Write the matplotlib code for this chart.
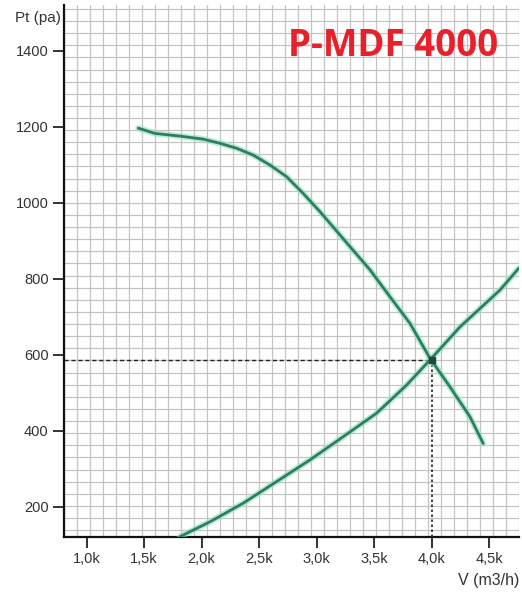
import numpy as np
import matplotlib.pyplot as plt

# Curva del ventilador
fan_q = [1449, 1594, 1812, 2014, 2160, 2305, 2449, 2594, 2740, 2884, 3030,
         3291, 3465, 3639, 3813, 3987, 4161, 4335, 4450]
fan_p = [1197, 1183, 1176, 1168, 1157, 1144, 1126, 1100, 1069, 1025, 977,
         885, 824, 753, 683, 591, 516, 437, 367]

# Curva del sistema
sys_q = [1812, 2073, 2362, 2653, 2943, 3232, 3523, 3784, 3987, 4248, 4596, 4761]
sys_p = [122, 161, 210, 267, 324, 385, 447, 521, 587, 674, 771, 829]

# Punto de trabajo
op_q = 4000
op_p = 588

x_ticks = [1000, 1500, 2000, 2500, 3000, 3500, 4000, 4500]
x_labels = ['1,0k', '1,5k', '2,0k', '2,5k', '3,0k', '3,5k', '4,0k', '4,5k']
y_ticks = [200, 400, 600, 800, 1000, 1200, 1400]

xmin, xmax = 803, 4761
ymin, ymax = 121, 1521

fig = plt.figure(figsize=(5.22, 5.94), dpi=100)
ax = fig.add_axes([64 / 522, 57 / 594, 455 / 522, 532 / 594])
ax.set_xlim(xmin, xmax)
ax.set_ylim(ymin, ymax)

# cuadricula fina
ax.set_xticks(np.linspace(xmin, xmax, 36), minor=True)
ax.set_yticks(np.arange(139, ymax, 31.9), minor=True)
ax.grid(which='minor', color='#c4c4c4', linewidth=0.9)
ax.tick_params(which='minor', length=0)
ax.set_axisbelow(True)

ax.set_xticks(x_ticks)
ax.set_xticklabels(x_labels)
ax.set_yticks(y_ticks)
ax.tick_params(which='major', direction='out', length=8, width=1.3, color='#222222',
               labelsize=10.5, labelcolor='#333333', pad=3)

for s in ['top', 'right']:
    ax.spines[s].set_visible(False)
for s in ['left', 'bottom']:
    ax.spines[s].set_linewidth(1.6)
    ax.spines[s].set_color('#111111')

# lineas de referencia del punto de trabajo
ax.plot([xmin, op_q], [op_p, op_p], color='#222222', linestyle=(0, (3, 2)), linewidth=1.0, zorder=3)
ax.plot([op_q, op_q], [ymin, op_p], color='#222222', linestyle=(0, (1.5, 1.5)), linewidth=1.2, zorder=3)

for q, p in [(fan_q, fan_p), (sys_q, sys_p)]:
    ax.plot(q, p, color='#8fe0bd', linewidth=4.5, alpha=0.6, zorder=4,
            solid_capstyle='round', solid_joinstyle='round')
    ax.plot(q, p, color='#2f7d5f', linewidth=2.0, zorder=5,
            solid_capstyle='round', solid_joinstyle='round')

ax.plot([op_q], [op_p], marker='s', markersize=5, color='#1f4a3a', zorder=6)

fig.text(15 / 522, 1 - 18 / 594, 'Pt (pa)', fontsize=11, color='#333333',
         family='Liberation Sans', va='center', ha='left')
fig.text(519 / 522, 1 - 580 / 594, 'V (m3/h)', fontsize=11.5, color='#333333',
         family='Liberation Sans', va='center', ha='right')
fig.text(393 / 522, 1 - 46 / 594, 'P-MDF 4000', fontsize=26.5, color='#e8202a',
         fontweight='bold', family='Open Sans', va='center', ha='center')

for lbl in ax.get_xticklabels() + ax.get_yticklabels():
    lbl.set_family('Liberation Sans')

fig.savefig('out.png', dpi=100)
